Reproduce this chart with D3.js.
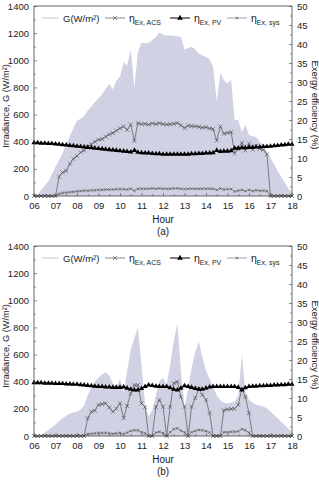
<!DOCTYPE html>
<html>
<head>
<meta charset="utf-8">
<script src="https://cdn.jsdelivr.net/npm/d3@7"></script>
<style>
  body { margin: 0; background: #fff; }
  svg { font-family: "Liberation Sans", Arial, sans-serif; }
</style>
</head>
<body>
<svg id="chart" width="319" height="480"></svg>
<script>
// time of day, hours (10 min steps)
const hours = [6.00, 6.17, 6.33, 6.50, 6.67, 6.83, 7.00, 7.17, 7.33, 7.50, 7.67, 7.83,
  8.00, 8.17, 8.33, 8.50, 8.67, 8.83, 9.00, 9.17, 9.33, 9.50, 9.67, 9.83,
  10.00, 10.17, 10.33, 10.50, 10.67, 10.83, 11.00, 11.17, 11.33, 11.50, 11.67, 11.83,
  12.00, 12.17, 12.33, 12.50, 12.67, 12.83, 13.00, 13.17, 13.33, 13.50, 13.67, 13.83,
  14.00, 14.17, 14.33, 14.50, 14.67, 14.83, 15.00, 15.17, 15.33, 15.50, 15.67, 15.83,
  16.00, 16.17, 16.33, 16.50, 16.67, 16.83, 17.00, 17.17, 17.33, 17.50, 17.67, 17.83, 18.00];

const hourTicks = ["06", "07", "08", "09", "10", "11", "12", "13", "14", "15", "16", "17", "18"];

// (a) clear day
const gA = [0, 10, 45, 75, 110, 160, 215, 265, 315, 380, 440, 500,
  555, 570, 590, 630, 660, 690, 720, 750, 790, 825, 785, 850,
  880, 990, 960, 1080, 800, 1060, 1130, 1125, 1130, 1150, 1170, 1205,
  1190, 1180, 1185, 1180, 1175, 1175, 1080, 1090, 1100, 1080, 1050, 1035,
  1025, 1005, 950, 700, 910, 850, 830, 855, 560, 560, 470, 525,
  450, 440, 435, 400, 375, 325, 280, 235, 185, 140, 95, 55, 25];
const acsA = [0, 0, 0, 0, 0, 0, 0, 5.1, 6.2, 6.6, 8.5, 9.8,
  10.5, 11.5, 12.0, 13.0, 13.6, 14.3, 14.8, 15.0, 15.6, 16.2, 16.6, 17.2,
  17.8, 18.3, 17.4, 18.8, 14.5, 19.2, 18.9, 19.0, 18.8, 19.1, 18.9, 19.2,
  18.9, 18.8, 18.9, 19.0, 19.2, 18.6, 17.9, 18.5, 18.4, 18.3, 18.2, 18.0,
  18.1, 17.8, 17.6, 14.6, 18.3, 16.4, 16.6, 16.8, 11.2, 12.3, 14.0, 12.0,
  13.8, 12.2, 13.2, 12.4, 12.2, 11.0, 0, 0, 0, 0, 0, 0, 0];
const pvA = [14.0, 14.0, 13.9, 13.9, 13.8, 13.8, 13.7, 13.6, 13.5, 13.4, 13.3, 13.2,
  13.1, 13.0, 12.9, 12.8, 12.7, 12.6, 12.5, 12.4, 12.3, 12.2, 12.1, 12.0,
  11.9, 11.8, 11.7, 11.6, 12.0, 11.5, 11.4, 11.3, 11.3, 11.2, 11.1, 11.1,
  11.0, 11.0, 11.0, 11.0, 11.0, 11.0, 11.0, 11.0, 11.1, 11.1, 11.2, 11.2,
  11.3, 11.3, 11.4, 12.0, 11.7, 11.8, 11.8, 11.9, 12.6, 12.6, 12.7, 12.7,
  12.8, 12.8, 12.9, 12.9, 13.0, 13.0, 13.1, 13.2, 13.3, 13.4, 13.5, 13.6, 13.6];
const sysA = [0, 0, 0, 0, 0, 0, 0, 0.6, 0.8, 0.9, 1.0, 1.1,
  1.2, 1.3, 1.4, 1.4, 1.5, 1.5, 1.6, 1.6, 1.7, 1.7, 1.7, 1.8,
  1.8, 1.8, 1.7, 1.9, 1.4, 1.9, 1.9, 1.9, 1.9, 2.0, 1.9, 2.0,
  1.9, 1.9, 1.9, 2.0, 2.0, 1.9, 1.8, 1.9, 1.9, 1.9, 1.9, 1.9,
  1.9, 1.9, 1.9, 1.6, 2.0, 1.7, 1.8, 1.8, 1.2, 1.4, 1.6, 1.3,
  1.6, 1.3, 1.5, 1.4, 1.4, 1.3, 0, 0, 0, 0, 0, 0, 0];

// (b) cloudy day
const gB = [0, 0, 10, 25, 45, 65, 85, 110, 130, 150, 165, 175,
  180, 195, 225, 300, 360, 400, 430, 455, 470, 445, 385, 360,
  420, 320, 480, 640, 720, 800, 520, 230, 145, 190, 300, 400,
  430, 380, 520, 700, 830, 480, 210, 350, 500, 620, 695, 580,
  480, 420, 360, 300, 265, 245, 240, 245, 255, 300, 600, 330,
  265, 245, 230, 225, 215, 205, 180, 155, 130, 105, 80, 55, 30];
const acsB = [0, 0, 0, 0, 0, 0, 0, 0, 0, 0, 0, 0,
  0, 0, 0, 4.7, 6.4, 6.7, 8.2, 8.4, 8.6, 7.5, 6.4, 7.2,
  8.6, 4.7, 7.9, 11.2, 13.4, 13.4, 8.6, 7.6, 0, 0, 7.6, 9.5,
  7.7, 0, 7.7, 13.9, 14.3, 10.3, 7.7, 0, 7.7, 10.0, 12.5, 10.8,
  9.5, 6.0, 0, 0, 0, 6.8, 7.0, 7.1, 7.2, 8.2, 12.5, 10.3,
  6.0, 0, 0, 0, 0, 0, 0, 0, 0, 0, 0, 0, 0];
const pvB = [14.0, 14.0, 14.0, 13.9, 13.9, 13.9, 13.8, 13.8, 13.8, 13.7, 13.7, 13.6,
  13.6, 13.5, 13.4, 13.3, 13.2, 13.1, 13.0, 13.0, 12.9, 12.9, 12.8, 12.8,
  12.8, 12.9, 12.6, 12.3, 12.1, 12.1, 12.5, 13.0, 13.4, 13.3, 13.1, 13.0,
  13.0, 13.0, 12.7, 12.3, 12.1, 12.6, 13.2, 13.0, 12.8, 12.5, 12.3, 12.3,
  12.6, 12.9, 13.0, 13.0, 13.0, 13.0, 13.0, 13.0, 13.0, 12.8, 12.1, 12.7,
  13.0, 13.1, 13.1, 13.2, 13.2, 13.3, 13.3, 13.4, 13.4, 13.5, 13.5, 13.6, 13.6];
const sysB = [0, 0, 0, 0, 0, 0, 0, 0, 0, 0, 0, 0,
  0, 0, 0, 0.5, 0.6, 0.7, 0.8, 0.8, 0.8, 0.7, 0.6, 0.7,
  0.8, 0.5, 0.9, 1.3, 1.5, 1.5, 1.0, 0.7, 0, 0, 0.9, 1.1,
  0.8, 0, 1.0, 1.8, 2.0, 1.4, 1.0, 0, 1.0, 1.3, 1.6, 1.5,
  1.3, 0.9, 0, 0, 0, 1.0, 1.0, 1.1, 1.1, 1.2, 1.8, 1.5,
  0.9, 0, 0, 0, 0, 0, 0, 0, 0, 0, 0, 0, 0];

const leftTicks = [0, 200, 400, 600, 800, 1000, 1200, 1400];
const rightTicks = [0, 5, 10, 15, 20, 25, 30, 35, 40, 45, 50];

const svg = d3.select("#chart");
const x0 = 34, x1 = 292;

const fillCol = "#d1d1e4";
const acsCol = "#555";
const sysCol = "#666";

function drawPanel(top, label, g, acs, pv, sys) {
  const bottom = top + 190;
  const x = d3.scaleLinear().domain([6, 18]).range([x0, x1]);
  const yL = d3.scaleLinear().domain([0, 1400]).range([bottom, top]);
  const yR = d3.scaleLinear().domain([0, 50]).range([bottom, top]);
  const panel = svg.append("g");

  // irradiance area
  const rows = hours.map((h, i) => ({h: h, g: g[i], acs: acs[i], pv: pv[i], sys: sys[i]}));
  panel.append("path")
    .datum(rows)
    .attr("fill", fillCol)
    .attr("d", d3.area().x(d => x(d.h)).y0(bottom).y1(d => yL(d.g)));

  // sys efficiency
  panel.append("path")
    .datum(rows)
    .attr("fill", "none")
    .attr("stroke", sysCol)
    .attr("stroke-width", 0.6)
    .attr("d", d3.line().x(d => x(d.h)).y(d => yR(d.sys)));
  panel.selectAll(".msys").data(rows).join("path")
    .attr("transform", d => "translate(" + x(d.h) + "," + yR(d.sys) + ")")
    .attr("d", "M-1.3,-1.3L1.3,1.3M-1.3,1.3L1.3,-1.3")
    .attr("stroke", "#444").attr("stroke-width", 0.6);

  // ACS efficiency
  panel.append("path")
    .datum(rows)
    .attr("fill", "none")
    .attr("stroke", acsCol)
    .attr("stroke-width", 0.7)
    .attr("d", d3.line().x(d => x(d.h)).y(d => yR(d.acs)));
  panel.selectAll(".macs").data(rows).join("path")
    .attr("transform", d => "translate(" + x(d.h) + "," + yR(d.acs) + ")")
    .attr("d", "M-2,-2L2,2M-2,2L2,-2")
    .attr("stroke", "#444").attr("stroke-width", 0.6);

  // PV efficiency
  panel.append("path")
    .datum(rows)
    .attr("fill", "none")
    .attr("stroke", "#000")
    .attr("stroke-width", 1.2)
    .attr("d", d3.line().x(d => x(d.h)).y(d => yR(d.pv)));
  panel.selectAll(".mpv").data(rows).join("path")
    .attr("transform", d => "translate(" + x(d.h) + "," + yR(d.pv) + ")")
    .attr("d", d3.symbol(d3.symbolTriangle, 12))
    .attr("fill", "#000");

  // frame
  panel.append("rect")
    .attr("x", x0).attr("y", top).attr("width", x1 - x0).attr("height", bottom - top)
    .attr("fill", "none").attr("stroke", "#444").attr("stroke-width", 0.8);

  // axes (ticks inward)
  panel.append("g").attr("transform", "translate(" + x0 + ",0)")
    .call(d3.axisLeft(yL).tickValues(leftTicks).tickSize(-3).tickPadding(5).tickFormat(d3.format("d")));
  panel.append("g").attr("transform", "translate(" + x0 + ",0)")
    .call(d3.axisLeft(yL).tickValues(d3.range(100, 1400, 200)).tickSize(-1.8).tickFormat(""));
  panel.append("g").attr("transform", "translate(" + x1 + ",0)")
    .call(d3.axisRight(yR).tickValues(rightTicks).tickSize(-3).tickPadding(5));
  panel.append("g").attr("transform", "translate(" + x1 + ",0)")
    .call(d3.axisRight(yR).tickValues(d3.range(2.5, 50, 5)).tickSize(-1.8).tickFormat(""));
  panel.append("g").attr("transform", "translate(0," + bottom + ")")
    .call(d3.axisBottom(x).tickValues(d3.range(6, 19)).tickSize(-3).tickPadding(6)
      .tickFormat((d, i) => hourTicks[i]));
  panel.append("g").attr("transform", "translate(0," + bottom + ")")
    .call(d3.axisBottom(x).tickValues(d3.range(6.5, 18, 1)).tickSize(-1.8).tickFormat(""));
  panel.selectAll(".domain").remove();
  panel.selectAll(".tick line").attr("stroke", "#444").attr("stroke-width", 0.6);
  panel.selectAll(".tick text").attr("font-size", 9.5).attr("fill", "#222")
    .attr("font-family", "Liberation Sans, Arial, sans-serif");

  // axis titles
  panel.append("text").attr("x", 163).attr("y", bottom + 27)
    .attr("text-anchor", "middle").attr("font-size", 10).attr("fill", "#222").text("Hour");
  panel.append("text").attr("x", 163).attr("y", bottom + 39)
    .attr("text-anchor", "middle").attr("font-size", 10).attr("fill", "#222").text(label);
  panel.append("text")
    .attr("transform", "translate(9," + (top + 100) + ") rotate(-90)")
    .attr("text-anchor", "middle").attr("font-size", 9.2).attr("fill", "#222")
    .text("Irradiance, G (W/m²)");
  panel.append("text")
    .attr("transform", "translate(311.5," + (top + 99) + ") rotate(90)")
    .attr("text-anchor", "middle").attr("font-size", 9.5).attr("fill", "#222")
    .text("Exergy efficiency (%)");

  // legend
  const ly = top + 12;
  const leg = panel.append("g").attr("fill", "#222");
  leg.append("line").attr("x1", 42).attr("x2", 59).attr("y1", ly).attr("y2", ly)
    .attr("stroke", "#c8c8c8").attr("stroke-width", 1);
  leg.append("text").attr("x", 63).attr("y", ly + 3.5).attr("font-size", 9.5).text("G(W/m²)");

  const items = [
    {x: 105, sub: "Ex, ACS", mark: "M-2,-2L2,2M-2,2L2,-2", col: acsCol, w: 0.7},
    {x: 170, sub: "Ex, PV", mark: d3.symbol(d3.symbolTriangle, 14)(), col: "#000", w: 1},
    {x: 227, sub: "Ex, sys", mark: "M-1.3,-1.3L1.3,1.3M-1.3,1.3L1.3,-1.3", col: sysCol, w: 0.6}
  ];
  items.forEach(it => {
    leg.append("line").attr("x1", it.x).attr("x2", it.x + 20).attr("y1", ly).attr("y2", ly)
      .attr("stroke", it.col).attr("stroke-width", it.w);
    const m = leg.append("path").attr("transform", "translate(" + (it.x + 10) + "," + ly + ")")
      .attr("d", it.mark);
    if (it.sub === "Ex, PV") m.attr("fill", "#000");
    else m.attr("fill", "none").attr("stroke", "#444").attr("stroke-width", 0.6);
    const t = leg.append("text").attr("x", it.x + 24).attr("y", ly + 3.5);
    t.append("tspan").attr("font-size", 10.5).text("η");
    t.append("tspan").attr("font-size", 7).attr("dy", 3).text(it.sub);
  });
}

drawPanel(6, "(a)", gA, acsA, pvA, sysA);
drawPanel(246, "(b)", gB, acsB, pvB, sysB);
</script>
</body>
</html>
